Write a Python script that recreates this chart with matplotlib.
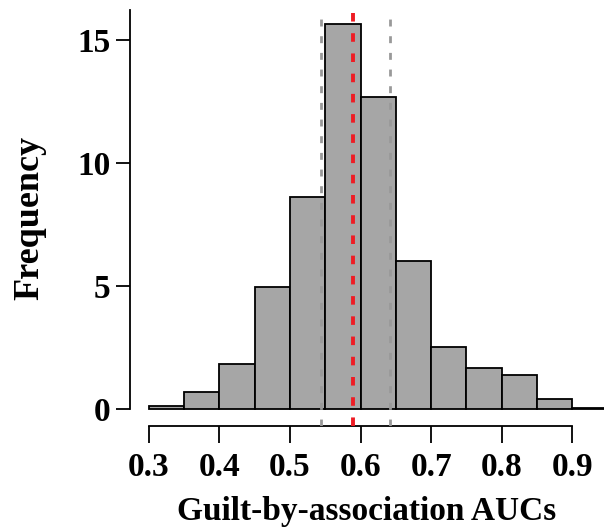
import matplotlib.pyplot as plt
import numpy as np

plt.rcParams['font.family'] = 'Liberation Serif'
plt.rcParams['font.weight'] = 'bold'

# histogram of AUCs (bin edges and heights)
bin_edges = [0.30, 0.35, 0.40, 0.45, 0.50, 0.55, 0.60, 0.65, 0.70, 0.75, 0.80, 0.85, 0.90, 0.95]
freq = [0.13, 0.70, 1.83, 4.95, 8.63, 15.65, 12.65, 6.02, 2.51, 1.65, 1.38, 0.41, 0.05]
mean_auc = 0.589
sd_lines = [0.544, 0.641]
xticks = [0.3, 0.4, 0.5, 0.6, 0.7, 0.8, 0.9]
yticks = [0, 5, 10, 15]

fig = plt.figure(figsize=(6.04, 5.28), dpi=100)
ax = fig.add_axes([0.215, 0.193, 0.785, 0.788])

lefts = np.array(bin_edges[:-1])
widths = np.diff(bin_edges)
ax.bar(lefts, freq, width=widths, align='edge', color='#a6a6a6',
       edgecolor='black', linewidth=1.3, zorder=2, clip_on=False)

for x in sd_lines:
    ax.axvline(x, color='#999999', linestyle=(0, (2.5, 3.5)), linewidth=2.0, zorder=3)
ax.axvline(mean_auc, color='#ee1c24', linestyle=(0, (2.2, 3.0)), linewidth=2.8, zorder=4)

ax.set_xlim(0.273, 0.945)
ax.set_ylim(-0.69, 16.2)

for s in ['top', 'right']:
    ax.spines[s].set_visible(False)
ax.spines['left'].set_bounds(0, 16.2)
ax.spines['bottom'].set_bounds(0.3, 0.9)
ax.spines['left'].set_linewidth(1.3)
ax.spines['bottom'].set_linewidth(1.3)

ax.set_xticks(xticks)
ax.set_xticklabels([f'{t:.1f}' for t in xticks])
ax.set_yticks(yticks)
ax.tick_params(axis='both', labelsize=24, width=1.3)
ax.tick_params(axis='x', length=12, pad=7)
ax.tick_params(axis='y', length=10, pad=4)

ax.set_xlabel('Guilt-by-association AUCs', fontsize=24, fontweight='bold', labelpad=9)
ax.set_ylabel('Frequency', fontsize=26, fontweight='bold', labelpad=22)

plt.savefig('out.png', dpi=100)
